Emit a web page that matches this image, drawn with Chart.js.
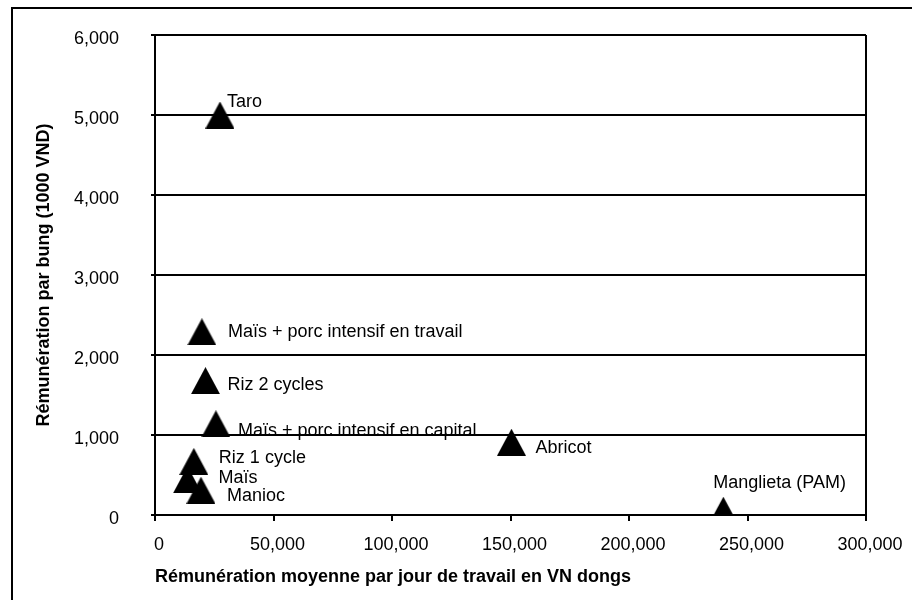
<!DOCTYPE html>
<html>
<head>
<meta charset="utf-8">
<script src="https://cdn.jsdelivr.net/npm/chart.js@4"></script>
<style>
  html, body { margin: 0; padding: 0; background: #fff; }
  #wrap { width: 912px; height: 600px; }
</style>
</head>
<body>
<div id="wrap"><canvas id="myChart" width="912" height="600"></canvas></div>
<script>
const cultures = ['Taro', 'Maïs + porc intensif en travail', 'Riz 2 cycles', 'Maïs + porc intensif en capital',
  'Riz 1 cycle', 'Maïs', 'Manioc', 'Abricot', 'Manglieta (PAM)'];
const remJour = [27400, 19800, 21300, 25700, 16400, 13700, 19400, 150400, 239800];
const remBung = [5000, 2290, 1680, 1140, 670, 440, 310, 910, 60];

// where each label sits relative to its marker (px)
const labelShift = [[7, -13], [26, 0], [22, 4], [22, 7], [25, -3], [31, -2], [26, 6], [24, 6], [-10, -27]];

Chart.defaults.font.family = "'Liberation Sans', Arial, sans-serif";
Chart.defaults.font.size = 18;
Chart.defaults.color = '#000';

// black triangle marker, centred on its bounding box
const tri = document.createElement('canvas');
tri.width = 29;
tri.height = 27;
const tctx = tri.getContext('2d');
tctx.fillStyle = '#000';
tctx.beginPath();
tctx.moveTo(14.5, 0);
tctx.lineTo(29, 27);
tctx.lineTo(0, 27);
tctx.closePath();
tctx.fill();

const frame = {
  id: 'frame',
  beforeDraw(chart) {
    const ctx = chart.ctx;
    ctx.save();
    ctx.fillStyle = '#fff';
    ctx.fillRect(0, 0, chart.width, chart.height);
    ctx.strokeStyle = '#000';
    ctx.lineWidth = 2;
    ctx.strokeRect(12, 8, 1000, 1000);
    ctx.restore();
  }
};

const pointLabels = {
  id: 'pointLabels',
  afterDatasetsDraw(chart) {
    const ctx = chart.ctx;
    const meta = chart.getDatasetMeta(0);
    ctx.save();
    ctx.font = "18px 'Liberation Sans', Arial, sans-serif";
    ctx.fillStyle = '#000';
    ctx.textAlign = 'left';
    ctx.textBaseline = 'middle';
    meta.data.forEach((pt, i) => {
      ctx.fillText(cultures[i], pt.x + labelShift[i][0], pt.y + labelShift[i][1]);
    });
    ctx.restore();
  }
};

const config = {
  type: 'scatter',
  data: {
    datasets: [{
      label: 'Cultures',
      data: remJour.map((x, i) => ({ x: x, y: remBung[i] })),
      pointStyle: tri,
      pointRadius: 14,
      backgroundColor: '#000',
      borderColor: '#000'
    }]
  },
  options: {
    responsive: false,
    animation: false,
    layout: { padding: { left: 20, top: 35, right: 46, bottom: 0 } },
    plugins: {
      legend: { display: false },
      tooltip: { enabled: false }
    },
    scales: {
      x: {
        type: 'linear',
        min: 0,
        max: 300000,
        afterFit(scale) {
          scale.height = 85;
          scale.paddingLeft = 0;
          scale.paddingRight = 0;
        },
        ticks: {
          stepSize: 50000,
          padding: 13,
          labelOffset: 4,
          maxRotation: 0,
          callback: v => v.toLocaleString('en-US')
        },
        grid: {
          color: ctx => ctx.tick && ctx.tick.value === 300000 ? '#000' : 'rgba(0,0,0,0)',
          lineWidth: 2,
          tickColor: '#000',
          tickLength: 6,
          tickWidth: 2
        },
        border: { color: '#000', width: 2 },
        title: {
          display: true,
          text: 'Rémunération moyenne par jour de travail en VN dongs',
          align: 'start',
          font: { size: 18, weight: 'bold' },
          padding: { top: 0, bottom: 12 }
        }
      },
      y: {
        min: 0,
        max: 6000,
        afterFit(scale) {
          scale.width = 135;
          scale.paddingTop = 0;
          scale.paddingBottom = 0;
        },
        ticks: {
          stepSize: 1000,
          padding: 32,
          labelOffset: 4,
          callback: v => v.toLocaleString('en-US')
        },
        grid: {
          color: '#000',
          lineWidth: 2,
          tickColor: '#000',
          tickLength: 4,
          tickWidth: 2
        },
        border: { color: '#000', width: 2 },
        title: {
          display: true,
          text: 'Rémunération par bung (1000 VND)',
          font: { size: 18, weight: 'bold' },
          padding: { top: 13, bottom: 0 }
        }
      }
    }
  },
  plugins: [frame, pointLabels]
};

const myChart = new Chart(document.getElementById('myChart'), config);
</script>
</body>
</html>
